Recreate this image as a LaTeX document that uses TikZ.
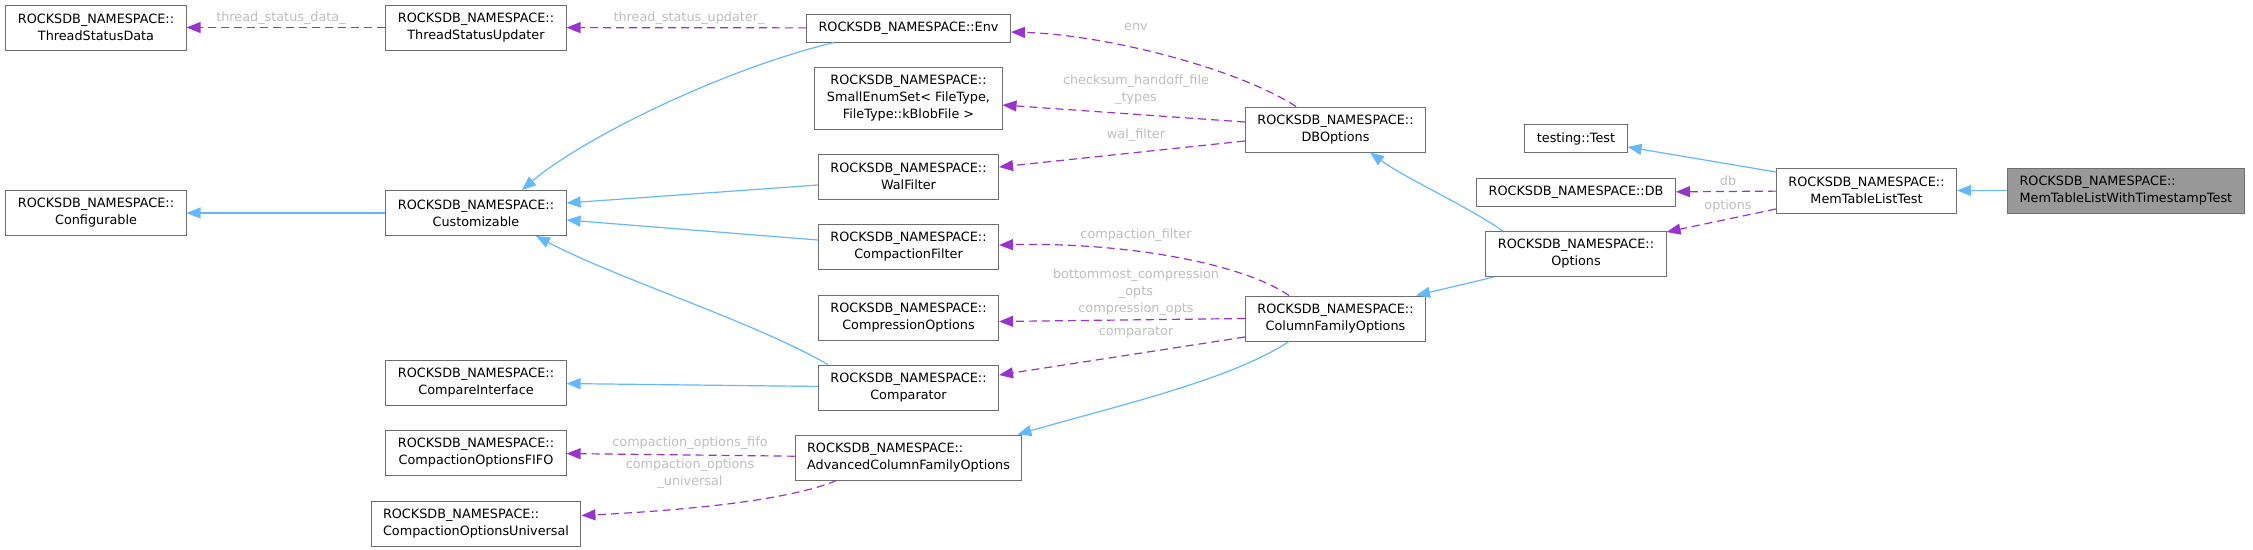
\documentclass[tikz,border=0pt]{standalone}
\usepackage{fontspec}
\setmainfont{DejaVu Sans}
\usetikzlibrary{positioning,arrows.meta}
\definecolor{boxrule}{RGB}{110,110,110}
\definecolor{basegrey}{RGB}{153,153,153}
\definecolor{inheritblue}{RGB}{99,184,255}
\definecolor{usepurple}{RGB}{154,50,205}
\definecolor{labelgrey}{RGB}{190,190,190}
\tikzset{
  cls/.style={rectangle,draw=boxrule,line width=1pt,fill=white,align=center,inner xsep=12pt,inner ysep=0pt,minimum height=45pt,font=\fontsize{12.8}{17}\selectfont},
  clsone/.style={cls,minimum height=28pt},
  clsthree/.style={cls,minimum height=62pt},
  focus/.style={cls,fill=basegrey,align=left},
  inherit/.style={draw=inheritblue,line width=1.2pt,-{Triangle[length=14pt,width=11pt]}},
  member/.style={draw=usepurple,line width=1.2pt,dash pattern=on 8pt off 5pt,-{Triangle[length=14pt,width=11pt]}},
  memberlbl/.style={text=labelgrey,align=center,inner sep=0pt,font=\fontsize{12.8}{17}\selectfont}
}

\begin{document}
\begin{tikzpicture}[x=1pt,y=-1pt,node distance=24pt]
  \useasboundingbox (0,0) rectangle (2253,549);
  \node[cls] (tsdata) at (96,27.5) {ROCKSDB\_NAMESPACE::\\ThreadStatusData};
  \node[cls] (tsupdater) at (476,27.5) {ROCKSDB\_NAMESPACE::\\ThreadStatusUpdater};
  \node[cls] (configurable) at (96,213) {ROCKSDB\_NAMESPACE::\\Configurable};
  \node[cls] (customizable) at (476,213) {ROCKSDB\_NAMESPACE::\\Customizable};
  \node[cls] (compareif) at (476,382.5) {ROCKSDB\_NAMESPACE::\\CompareInterface};
  \node[cls,below=of compareif] (fifo) {ROCKSDB\_NAMESPACE::\\CompactionOptionsFIFO};
  \node[cls,align=left,below=25pt of fifo] (universal) {ROCKSDB\_NAMESPACE::\\CompactionOptionsUniversal};
  \node[clsone] (env) at (908.5,28) {ROCKSDB\_NAMESPACE::Env};
  \node[clsthree,below=of env] (smallenum) {ROCKSDB\_NAMESPACE::\\SmallEnumSet< FileType,\\FileType::kBlobFile >};
  \node[cls,below=of smallenum] (walfilter) {ROCKSDB\_NAMESPACE::\\WalFilter};
  \node[cls,below=of walfilter] (compfilter) {ROCKSDB\_NAMESPACE::\\CompactionFilter};
  \node[cls,below=25pt of compfilter] (compropts) {ROCKSDB\_NAMESPACE::\\CompressionOptions};
  \node[cls,below=of compropts] (comparator) {ROCKSDB\_NAMESPACE::\\Comparator};
  \node[cls,align=left,below=of comparator] (advcfo) {ROCKSDB\_NAMESPACE::\\AdvancedColumnFamilyOptions};
  \node[cls] (dboptions) at (1335.5,129.5) {ROCKSDB\_NAMESPACE::\\DBOptions};
  \node[cls] (cfoptions) at (1335.5,318.5) {ROCKSDB\_NAMESPACE::\\ColumnFamilyOptions};
  \node[clsone] (test) at (1576,138.5) {testing::Test};
  \node[clsone,below=25pt of test] (db) {ROCKSDB\_NAMESPACE::DB};
  \node[cls,below=of db] (options) {ROCKSDB\_NAMESPACE::\\Options};
  \node[cls] (mtltest) at (1866.5,190.5) {ROCKSDB\_NAMESPACE::\\MemTableListTest};
  \node[focus,right=50pt of mtltest] (mtlts) {ROCKSDB\_NAMESPACE::\\MemTableListWithTimestampTest};

  \node[memberlbl] (lbltsdata) at (281,18) {thread\_status\_data\_};
  \node[memberlbl] (lbltsupdater) at (689,18) {thread\_status\_updater\_};
  \node[memberlbl] (lblenv) at (1136,27) {env};
  \node[memberlbl] (lblchecksum) at (1136,90) {checksum\_handoff\_file\\\_types};
  \node[memberlbl] (lblwal) at (1136,135) {wal\_filter};
  \node[memberlbl] (lblcompfilter) at (1136,235) {compaction\_filter};
  \node[memberlbl] (lblcompr) at (1136,292) {bottommost\_compression\\\_opts\\compression\_opts};
  \node[memberlbl] (lblcomparator) at (1136,332) {comparator};
  \node[memberlbl] (lblfifo) at (690,443) {compaction\_options\_fifo};
  \node[memberlbl] (lbluniversal) at (690,474) {compaction\_options\\\_universal};
  \node[memberlbl] (lbldb) at (1728,181) {db};
  \node[memberlbl] (lbloptions) at (1728,206) {options};

  \draw[member] (tsupdater) -- (tsdata);
  \draw[member] (env) -- (tsupdater);
  \draw[inherit] (customizable) -- (configurable);
  \draw[inherit] ([xshift=28pt]env.south west) .. controls (720,70) and (580,140) .. ([xshift=46pt]customizable.north);
  \draw[inherit] ([yshift=-8.5pt]walfilter.west) -- ([yshift=10pt]customizable.east);
  \draw[inherit] ([yshift=6.5pt]compfilter.west) -- ([yshift=-7pt]customizable.east);
  \draw[inherit] ([xshift=10pt]comparator.north west) .. controls (750,320) and (620,280) .. ([xshift=60pt]customizable.south);
  \draw[inherit] (comparator) -- (compareif);
  \draw[member] ([xshift=-39.5pt]dboptions.north) .. controls (1240,70) and (1110,35) .. ([yshift=-4pt]env.east);
  \draw[member] ([yshift=7.5pt]dboptions.west) -- ([yshift=-7pt]smallenum.east);
  \draw[member] ([yshift=-11.5pt]dboptions.west) -- ([yshift=9.5pt]walfilter.east);
  \draw[member] ([xshift=-46.5pt]cfoptions.north) .. controls (1240,262) and (1120,242) .. ([yshift=1.5pt]compfilter.east);
  \draw[member] (cfoptions.west) -- ([yshift=-4pt]compropts.east);
  \draw[member] ([yshift=-18.5pt]cfoptions.west) -- ([yshift=12.5pt]comparator.east);
  \draw[inherit] ([xshift=-46.5pt]cfoptions.south) .. controls (1230,380) and (1120,405) .. ([xshift=-5pt]advcfo.north east);
  \draw[member] (advcfo) -- (fifo);
  \draw[member] ([xshift=42pt]advcfo.south west) .. controls (790,500) and (690,510) .. ([yshift=8pt]universal.east);
  \draw[inherit] ([xshift=-73pt]options.north) .. controls (1465,205) and (1405,178) .. ([xshift=34.5pt]dboptions.south);
  \draw[inherit] ([xshift=-82pt]options.south) -- ([xshift=-10pt]cfoptions.north east);
  \draw[inherit] ([yshift=18.5pt]mtltest.west) -- ([yshift=-8.5pt]test.east);
  \draw[member] (mtltest) -- (db);
  \draw[member] ([yshift=-18.5pt]mtltest.west) -- ([yshift=-1pt]options.north east);
  \draw[inherit] (mtlts) -- (mtltest);
\end{tikzpicture}
\end{document}
